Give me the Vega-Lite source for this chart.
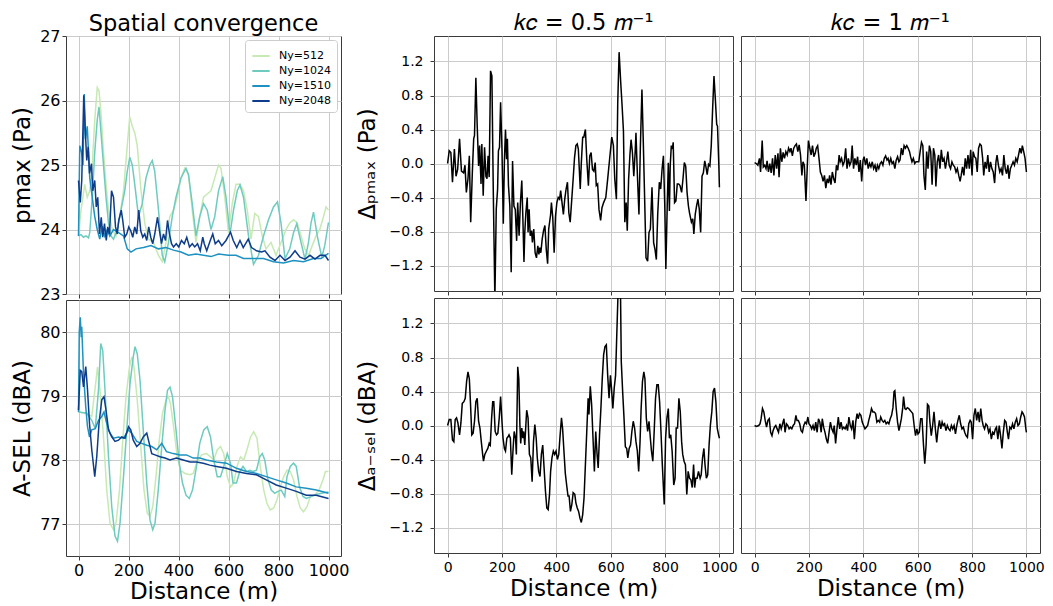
{
"$schema": "https://vega.github.io/schema/vega-lite/v6.json",
"background": "white",
"padding": {"left": 11, "top": 11, "right": 3, "bottom": 1},
"config": {
 "font": "DejaVu Sans",
 "view": {"stroke": "#3a3a3a", "strokeWidth": 1},
 "axis": {"domain": false, "grid": true, "gridColor": "#cbcbcb", "gridWidth": 1, "tickColor": "#3a3a3a", "tickSize": 4, "tickWidth": 1, "labelFontSize": 14, "labelColor": "#000", "labelPadding": 4, "labelFlush": false, "labelOverlap": false, "titleFontSize": 23, "titleFontWeight": "normal", "titleColor": "#000", "titlePadding": 6},
 "title": {"fontSize": 22.5, "fontWeight": "normal", "color": "#000", "offset": 2}
},
"datasets": {
 "pmax": [
  {"Ny":"Ny=512","d":0,"v":23.9},{"Ny":"Ny=512","d":10,"v":24.3},{"Ny":"Ny=512","d":25,"v":24.7},{"Ny":"Ny=512","d":35,"v":24.5},{"Ny":"Ny=512","d":45,"v":24.6},{"Ny":"Ny=512","d":55,"v":25.0},{"Ny":"Ny=512","d":65,"v":25.7},{"Ny":"Ny=512","d":75,"v":26.2},{"Ny":"Ny=512","d":82,"v":26.15},{"Ny":"Ny=512","d":90,"v":25.8},{"Ny":"Ny=512","d":100,"v":25.2},{"Ny":"Ny=512","d":110,"v":24.7},{"Ny":"Ny=512","d":120,"v":24.3},{"Ny":"Ny=512","d":135,"v":24.0},{"Ny":"Ny=512","d":150,"v":23.9},{"Ny":"Ny=512","d":165,"v":24.2},{"Ny":"Ny=512","d":180,"v":24.6},{"Ny":"Ny=512","d":195,"v":25.3},{"Ny":"Ny=512","d":205,"v":25.75},{"Ny":"Ny=512","d":215,"v":25.6},{"Ny":"Ny=512","d":225,"v":25.5},{"Ny":"Ny=512","d":235,"v":25.3},{"Ny":"Ny=512","d":250,"v":24.6},{"Ny":"Ny=512","d":265,"v":24.1},{"Ny":"Ny=512","d":280,"v":23.85},{"Ny":"Ny=512","d":300,"v":23.8},{"Ny":"Ny=512","d":320,"v":23.6},{"Ny":"Ny=512","d":335,"v":23.5},{"Ny":"Ny=512","d":350,"v":23.8},{"Ny":"Ny=512","d":365,"v":24.2},{"Ny":"Ny=512","d":380,"v":24.3},{"Ny":"Ny=512","d":395,"v":24.5},{"Ny":"Ny=512","d":410,"v":24.8},{"Ny":"Ny=512","d":425,"v":24.95},{"Ny":"Ny=512","d":440,"v":24.85},{"Ny":"Ny=512","d":455,"v":24.3},{"Ny":"Ny=512","d":470,"v":23.8},{"Ny":"Ny=512","d":485,"v":24.2},{"Ny":"Ny=512","d":500,"v":24.5},{"Ny":"Ny=512","d":515,"v":24.55},{"Ny":"Ny=512","d":530,"v":24.6},{"Ny":"Ny=512","d":545,"v":24.8},{"Ny":"Ny=512","d":560,"v":25.0},{"Ny":"Ny=512","d":570,"v":24.95},{"Ny":"Ny=512","d":585,"v":24.5},{"Ny":"Ny=512","d":600,"v":23.95},{"Ny":"Ny=512","d":615,"v":24.4},{"Ny":"Ny=512","d":630,"v":24.7},{"Ny":"Ny=512","d":645,"v":24.7},{"Ny":"Ny=512","d":660,"v":24.6},{"Ny":"Ny=512","d":675,"v":24.3},{"Ny":"Ny=512","d":690,"v":23.85},{"Ny":"Ny=512","d":705,"v":24.25},{"Ny":"Ny=512","d":720,"v":24.2},{"Ny":"Ny=512","d":735,"v":23.9},{"Ny":"Ny=512","d":750,"v":23.7},{"Ny":"Ny=512","d":770,"v":23.8},{"Ny":"Ny=512","d":790,"v":23.6},{"Ny":"Ny=512","d":810,"v":23.8},{"Ny":"Ny=512","d":830,"v":24.0},{"Ny":"Ny=512","d":845,"v":24.1},{"Ny":"Ny=512","d":860,"v":24.15},{"Ny":"Ny=512","d":875,"v":24.1},{"Ny":"Ny=512","d":890,"v":23.9},{"Ny":"Ny=512","d":905,"v":23.7},{"Ny":"Ny=512","d":920,"v":23.6},{"Ny":"Ny=512","d":935,"v":23.75},{"Ny":"Ny=512","d":950,"v":23.9},{"Ny":"Ny=512","d":965,"v":24.0},{"Ny":"Ny=512","d":980,"v":24.2},{"Ny":"Ny=512","d":990,"v":24.35},{"Ny":"Ny=512","d":1000,"v":24.3},
  {"Ny":"Ny=1024","d":0,"v":23.9},{"Ny":"Ny=1024","d":10,"v":23.92},{"Ny":"Ny=1024","d":20,"v":23.88},{"Ny":"Ny=1024","d":30,"v":23.9},{"Ny":"Ny=1024","d":40,"v":23.87},{"Ny":"Ny=1024","d":45,"v":23.95},{"Ny":"Ny=1024","d":55,"v":24.5},{"Ny":"Ny=1024","d":65,"v":25.2},{"Ny":"Ny=1024","d":75,"v":25.7},{"Ny":"Ny=1024","d":82,"v":25.9},{"Ny":"Ny=1024","d":90,"v":25.5},{"Ny":"Ny=1024","d":100,"v":25.0},{"Ny":"Ny=1024","d":110,"v":24.5},{"Ny":"Ny=1024","d":120,"v":24.1},{"Ny":"Ny=1024","d":130,"v":23.9},{"Ny":"Ny=1024","d":140,"v":23.85},{"Ny":"Ny=1024","d":155,"v":24.0},{"Ny":"Ny=1024","d":170,"v":24.3},{"Ny":"Ny=1024","d":185,"v":24.6},{"Ny":"Ny=1024","d":195,"v":24.9},{"Ny":"Ny=1024","d":205,"v":25.12},{"Ny":"Ny=1024","d":215,"v":25.0},{"Ny":"Ny=1024","d":225,"v":24.7},{"Ny":"Ny=1024","d":240,"v":24.2},{"Ny":"Ny=1024","d":255,"v":24.4},{"Ny":"Ny=1024","d":270,"v":24.8},{"Ny":"Ny=1024","d":285,"v":25.0},{"Ny":"Ny=1024","d":295,"v":25.07},{"Ny":"Ny=1024","d":305,"v":24.9},{"Ny":"Ny=1024","d":320,"v":24.3},{"Ny":"Ny=1024","d":335,"v":23.6},{"Ny":"Ny=1024","d":345,"v":23.5},{"Ny":"Ny=1024","d":360,"v":23.8},{"Ny":"Ny=1024","d":375,"v":24.2},{"Ny":"Ny=1024","d":390,"v":24.5},{"Ny":"Ny=1024","d":410,"v":24.8},{"Ny":"Ny=1024","d":430,"v":24.95},{"Ny":"Ny=1024","d":440,"v":24.85},{"Ny":"Ny=1024","d":455,"v":24.4},{"Ny":"Ny=1024","d":470,"v":23.9},{"Ny":"Ny=1024","d":485,"v":24.2},{"Ny":"Ny=1024","d":500,"v":24.4},{"Ny":"Ny=1024","d":515,"v":24.3},{"Ny":"Ny=1024","d":530,"v":24.0},{"Ny":"Ny=1024","d":545,"v":24.2},{"Ny":"Ny=1024","d":560,"v":24.6},{"Ny":"Ny=1024","d":577,"v":24.82},{"Ny":"Ny=1024","d":590,"v":24.5},{"Ny":"Ny=1024","d":606,"v":23.93},{"Ny":"Ny=1024","d":620,"v":24.3},{"Ny":"Ny=1024","d":635,"v":24.6},{"Ny":"Ny=1024","d":646,"v":24.69},{"Ny":"Ny=1024","d":660,"v":24.5},{"Ny":"Ny=1024","d":680,"v":23.9},{"Ny":"Ny=1024","d":700,"v":23.46},{"Ny":"Ny=1024","d":720,"v":23.6},{"Ny":"Ny=1024","d":740,"v":23.9},{"Ny":"Ny=1024","d":760,"v":24.15},{"Ny":"Ny=1024","d":780,"v":24.35},{"Ny":"Ny=1024","d":796,"v":24.43},{"Ny":"Ny=1024","d":810,"v":24.1},{"Ny":"Ny=1024","d":826,"v":23.55},{"Ny":"Ny=1024","d":845,"v":23.7},{"Ny":"Ny=1024","d":860,"v":23.95},{"Ny":"Ny=1024","d":873,"v":24.09},{"Ny":"Ny=1024","d":890,"v":23.8},{"Ny":"Ny=1024","d":906,"v":23.54},{"Ny":"Ny=1024","d":920,"v":23.8},{"Ny":"Ny=1024","d":930,"v":24.1},{"Ny":"Ny=1024","d":940,"v":24.27},{"Ny":"Ny=1024","d":955,"v":23.9},{"Ny":"Ny=1024","d":973,"v":23.57},{"Ny":"Ny=1024","d":985,"v":23.75},{"Ny":"Ny=1024","d":1000,"v":24.11},
  {"Ny":"Ny=1510","d":0,"v":23.9},{"Ny":"Ny=1510","d":5,"v":25.3},{"Ny":"Ny=1510","d":12,"v":25.2},{"Ny":"Ny=1510","d":18,"v":25.0},{"Ny":"Ny=1510","d":23,"v":26.1},{"Ny":"Ny=1510","d":28,"v":25.4},{"Ny":"Ny=1510","d":35,"v":25.6},{"Ny":"Ny=1510","d":45,"v":24.8},{"Ny":"Ny=1510","d":55,"v":24.5},{"Ny":"Ny=1510","d":65,"v":24.2},{"Ny":"Ny=1510","d":75,"v":24.0},{"Ny":"Ny=1510","d":85,"v":23.85},{"Ny":"Ny=1510","d":95,"v":24.05},{"Ny":"Ny=1510","d":105,"v":23.9},{"Ny":"Ny=1510","d":115,"v":24.0},{"Ny":"Ny=1510","d":125,"v":23.9},{"Ny":"Ny=1510","d":140,"v":24.0},{"Ny":"Ny=1510","d":160,"v":23.95},{"Ny":"Ny=1510","d":180,"v":23.9},{"Ny":"Ny=1510","d":195,"v":23.7},{"Ny":"Ny=1510","d":210,"v":23.65},{"Ny":"Ny=1510","d":230,"v":23.7},{"Ny":"Ny=1510","d":260,"v":23.72},{"Ny":"Ny=1510","d":290,"v":23.75},{"Ny":"Ny=1510","d":320,"v":23.7},{"Ny":"Ny=1510","d":350,"v":23.72},{"Ny":"Ny=1510","d":380,"v":23.68},{"Ny":"Ny=1510","d":410,"v":23.65},{"Ny":"Ny=1510","d":440,"v":23.6},{"Ny":"Ny=1510","d":470,"v":23.62},{"Ny":"Ny=1510","d":500,"v":23.6},{"Ny":"Ny=1510","d":530,"v":23.58},{"Ny":"Ny=1510","d":560,"v":23.62},{"Ny":"Ny=1510","d":600,"v":23.6},{"Ny":"Ny=1510","d":630,"v":23.6},{"Ny":"Ny=1510","d":660,"v":23.55},{"Ny":"Ny=1510","d":700,"v":23.55},{"Ny":"Ny=1510","d":740,"v":23.55},{"Ny":"Ny=1510","d":780,"v":23.5},{"Ny":"Ny=1510","d":820,"v":23.48},{"Ny":"Ny=1510","d":860,"v":23.52},{"Ny":"Ny=1510","d":900,"v":23.5},{"Ny":"Ny=1510","d":940,"v":23.55},{"Ny":"Ny=1510","d":970,"v":23.55},{"Ny":"Ny=1510","d":1000,"v":23.63},
  {"Ny":"Ny=2048","d":0,"v":24.76},{"Ny":"Ny=2048","d":7,"v":24.42},{"Ny":"Ny=2048","d":13,"v":24.76},{"Ny":"Ny=2048","d":21,"v":26.08},{"Ny":"Ny=2048","d":27,"v":25.54},{"Ny":"Ny=2048","d":33,"v":25.07},{"Ny":"Ny=2048","d":39,"v":25.28},{"Ny":"Ny=2048","d":44,"v":24.87},{"Ny":"Ny=2048","d":52,"v":25.02},{"Ny":"Ny=2048","d":57,"v":24.6},{"Ny":"Ny=2048","d":65,"v":24.76},{"Ny":"Ny=2048","d":71,"v":24.35},{"Ny":"Ny=2048","d":77,"v":24.5},{"Ny":"Ny=2048","d":84,"v":23.93},{"Ny":"Ny=2048","d":91,"v":24.19},{"Ny":"Ny=2048","d":97,"v":23.88},{"Ny":"Ny=2048","d":104,"v":24.09},{"Ny":"Ny=2048","d":111,"v":23.83},{"Ny":"Ny=2048","d":117,"v":24.04},{"Ny":"Ny=2048","d":124,"v":23.93},{"Ny":"Ny=2048","d":132,"v":24.6},{"Ny":"Ny=2048","d":140,"v":24.5},{"Ny":"Ny=2048","d":148,"v":24.04},{"Ny":"Ny=2048","d":155,"v":23.93},{"Ny":"Ny=2048","d":161,"v":24.14},{"Ny":"Ny=2048","d":171,"v":24.3},{"Ny":"Ny=2048","d":177,"v":24.14},{"Ny":"Ny=2048","d":185,"v":23.88},{"Ny":"Ny=2048","d":193,"v":23.93},{"Ny":"Ny=2048","d":201,"v":24.04},{"Ny":"Ny=2048","d":209,"v":23.98},{"Ny":"Ny=2048","d":217,"v":23.88},{"Ny":"Ny=2048","d":225,"v":24.04},{"Ny":"Ny=2048","d":233,"v":23.93},{"Ny":"Ny=2048","d":241,"v":24.3},{"Ny":"Ny=2048","d":249,"v":23.98},{"Ny":"Ny=2048","d":257,"v":23.88},{"Ny":"Ny=2048","d":265,"v":23.93},{"Ny":"Ny=2048","d":273,"v":23.83},{"Ny":"Ny=2048","d":281,"v":24.04},{"Ny":"Ny=2048","d":289,"v":23.88},{"Ny":"Ny=2048","d":297,"v":23.78},{"Ny":"Ny=2048","d":305,"v":23.93},{"Ny":"Ny=2048","d":316,"v":24.19},{"Ny":"Ny=2048","d":324,"v":23.98},{"Ny":"Ny=2048","d":332,"v":23.78},{"Ny":"Ny=2048","d":340,"v":23.93},{"Ny":"Ny=2048","d":348,"v":23.83},{"Ny":"Ny=2048","d":356,"v":24.14},{"Ny":"Ny=2048","d":364,"v":23.93},{"Ny":"Ny=2048","d":372,"v":23.78},{"Ny":"Ny=2048","d":380,"v":23.73},{"Ny":"Ny=2048","d":391,"v":23.78},{"Ny":"Ny=2048","d":401,"v":23.73},{"Ny":"Ny=2048","d":412,"v":23.83},{"Ny":"Ny=2048","d":423,"v":23.78},{"Ny":"Ny=2048","d":433,"v":23.88},{"Ny":"Ny=2048","d":444,"v":23.73},{"Ny":"Ny=2048","d":455,"v":23.78},{"Ny":"Ny=2048","d":465,"v":23.73},{"Ny":"Ny=2048","d":476,"v":23.78},{"Ny":"Ny=2048","d":487,"v":23.67},{"Ny":"Ny=2048","d":497,"v":23.88},{"Ny":"Ny=2048","d":503,"v":23.78},{"Ny":"Ny=2048","d":513,"v":23.67},{"Ny":"Ny=2048","d":527,"v":23.83},{"Ny":"Ny=2048","d":537,"v":23.93},{"Ny":"Ny=2048","d":547,"v":23.78},{"Ny":"Ny=2048","d":560,"v":23.83},{"Ny":"Ny=2048","d":573,"v":23.75},{"Ny":"Ny=2048","d":590,"v":23.83},{"Ny":"Ny=2048","d":608,"v":23.96},{"Ny":"Ny=2048","d":619,"v":23.83},{"Ny":"Ny=2048","d":633,"v":23.72},{"Ny":"Ny=2048","d":646,"v":23.83},{"Ny":"Ny=2048","d":659,"v":23.72},{"Ny":"Ny=2048","d":679,"v":23.85},{"Ny":"Ny=2048","d":692,"v":23.72},{"Ny":"Ny=2048","d":712,"v":23.67},{"Ny":"Ny=2048","d":732,"v":23.65},{"Ny":"Ny=2048","d":746,"v":23.67},{"Ny":"Ny=2048","d":766,"v":23.57},{"Ny":"Ny=2048","d":786,"v":23.52},{"Ny":"Ny=2048","d":806,"v":23.6},{"Ny":"Ny=2048","d":826,"v":23.52},{"Ny":"Ny=2048","d":846,"v":23.57},{"Ny":"Ny=2048","d":866,"v":23.67},{"Ny":"Ny=2048","d":886,"v":23.57},{"Ny":"Ny=2048","d":906,"v":23.54},{"Ny":"Ny=2048","d":926,"v":23.6},{"Ny":"Ny=2048","d":946,"v":23.54},{"Ny":"Ny=2048","d":966,"v":23.6},{"Ny":"Ny=2048","d":986,"v":23.6},{"Ny":"Ny=2048","d":1000,"v":23.52}
 ],
 "asel": [
  {"Ny":"Ny=512","d":0,"v":78.75},{"Ny":"Ny=512","d":33,"v":78.73},{"Ny":"Ny=512","d":53,"v":78.68},{"Ny":"Ny=512","d":67,"v":79.14},{"Ny":"Ny=512","d":76,"v":79.45},{"Ny":"Ny=512","d":86,"v":79.09},{"Ny":"Ny=512","d":100,"v":78.36},{"Ny":"Ny=512","d":113,"v":77.53},{"Ny":"Ny=512","d":126,"v":77.01},{"Ny":"Ny=512","d":140,"v":76.91},{"Ny":"Ny=512","d":150,"v":77.01},{"Ny":"Ny=512","d":164,"v":77.53},{"Ny":"Ny=512","d":177,"v":78.31},{"Ny":"Ny=512","d":190,"v":78.99},{"Ny":"Ny=512","d":204,"v":79.45},{"Ny":"Ny=512","d":213,"v":79.61},{"Ny":"Ny=512","d":222,"v":79.45},{"Ny":"Ny=512","d":235,"v":78.94},{"Ny":"Ny=512","d":249,"v":78.21},{"Ny":"Ny=512","d":262,"v":77.53},{"Ny":"Ny=512","d":275,"v":77.17},{"Ny":"Ny=512","d":286,"v":77.12},{"Ny":"Ny=512","d":297,"v":77.27},{"Ny":"Ny=512","d":310,"v":77.74},{"Ny":"Ny=512","d":323,"v":78.31},{"Ny":"Ny=512","d":336,"v":78.73},{"Ny":"Ny=512","d":350,"v":78.94},{"Ny":"Ny=512","d":359,"v":78.99},{"Ny":"Ny=512","d":368,"v":78.88},{"Ny":"Ny=512","d":382,"v":78.47},{"Ny":"Ny=512","d":395,"v":78.05},{"Ny":"Ny=512","d":408,"v":77.84},{"Ny":"Ny=512","d":426,"v":77.79},{"Ny":"Ny=512","d":446,"v":77.77},{"Ny":"Ny=512","d":459,"v":77.79},{"Ny":"Ny=512","d":472,"v":77.95},{"Ny":"Ny=512","d":492,"v":78.08},{"Ny":"Ny=512","d":512,"v":78.1},{"Ny":"Ny=512","d":528,"v":78.05},{"Ny":"Ny=512","d":541,"v":78.0},{"Ny":"Ny=512","d":555,"v":78.16},{"Ny":"Ny=512","d":568,"v":78.21},{"Ny":"Ny=512","d":581,"v":78.1},{"Ny":"Ny=512","d":595,"v":77.74},{"Ny":"Ny=512","d":608,"v":77.58},{"Ny":"Ny=512","d":621,"v":77.64},{"Ny":"Ny=512","d":634,"v":77.9},{"Ny":"Ny=512","d":648,"v":78.05},{"Ny":"Ny=512","d":661,"v":78.0},{"Ny":"Ny=512","d":674,"v":78.16},{"Ny":"Ny=512","d":688,"v":78.36},{"Ny":"Ny=512","d":701,"v":78.44},{"Ny":"Ny=512","d":714,"v":78.34},{"Ny":"Ny=512","d":727,"v":77.9},{"Ny":"Ny=512","d":741,"v":77.53},{"Ny":"Ny=512","d":754,"v":77.32},{"Ny":"Ny=512","d":767,"v":77.22},{"Ny":"Ny=512","d":781,"v":77.25},{"Ny":"Ny=512","d":794,"v":77.38},{"Ny":"Ny=512","d":807,"v":77.58},{"Ny":"Ny=512","d":821,"v":77.74},{"Ny":"Ny=512","d":834,"v":77.84},{"Ny":"Ny=512","d":847,"v":77.82},{"Ny":"Ny=512","d":860,"v":77.69},{"Ny":"Ny=512","d":874,"v":77.43},{"Ny":"Ny=512","d":887,"v":77.25},{"Ny":"Ny=512","d":900,"v":77.19},{"Ny":"Ny=512","d":914,"v":77.27},{"Ny":"Ny=512","d":927,"v":77.43},{"Ny":"Ny=512","d":944,"v":77.45},{"Ny":"Ny=512","d":962,"v":77.53},{"Ny":"Ny=512","d":978,"v":77.69},{"Ny":"Ny=512","d":988,"v":77.82},{"Ny":"Ny=512","d":1000,"v":77.82},
  {"Ny":"Ny=1024","d":0,"v":78.75},{"Ny":"Ny=1024","d":33,"v":78.73},{"Ny":"Ny=1024","d":53,"v":78.62},{"Ny":"Ny=1024","d":67,"v":78.49},{"Ny":"Ny=1024","d":80,"v":79.1},{"Ny":"Ny=1024","d":89,"v":79.82},{"Ny":"Ny=1024","d":97,"v":79.71},{"Ny":"Ny=1024","d":106,"v":79.09},{"Ny":"Ny=1024","d":120,"v":78.05},{"Ny":"Ny=1024","d":133,"v":77.27},{"Ny":"Ny=1024","d":146,"v":76.81},{"Ny":"Ny=1024","d":156,"v":76.73},{"Ny":"Ny=1024","d":166,"v":77.01},{"Ny":"Ny=1024","d":180,"v":77.74},{"Ny":"Ny=1024","d":193,"v":78.47},{"Ny":"Ny=1024","d":206,"v":79.19},{"Ny":"Ny=1024","d":219,"v":79.61},{"Ny":"Ny=1024","d":226,"v":79.77},{"Ny":"Ny=1024","d":235,"v":79.66},{"Ny":"Ny=1024","d":246,"v":79.25},{"Ny":"Ny=1024","d":259,"v":78.47},{"Ny":"Ny=1024","d":273,"v":77.64},{"Ny":"Ny=1024","d":286,"v":77.06},{"Ny":"Ny=1024","d":297,"v":76.91},{"Ny":"Ny=1024","d":306,"v":77.01},{"Ny":"Ny=1024","d":319,"v":77.53},{"Ny":"Ny=1024","d":333,"v":78.21},{"Ny":"Ny=1024","d":346,"v":78.78},{"Ny":"Ny=1024","d":356,"v":79.09},{"Ny":"Ny=1024","d":366,"v":79.14},{"Ny":"Ny=1024","d":376,"v":78.99},{"Ny":"Ny=1024","d":390,"v":78.47},{"Ny":"Ny=1024","d":403,"v":77.95},{"Ny":"Ny=1024","d":416,"v":77.64},{"Ny":"Ny=1024","d":430,"v":77.45},{"Ny":"Ny=1024","d":443,"v":77.4},{"Ny":"Ny=1024","d":456,"v":77.53},{"Ny":"Ny=1024","d":472,"v":77.9},{"Ny":"Ny=1024","d":485,"v":78.26},{"Ny":"Ny=1024","d":501,"v":78.47},{"Ny":"Ny=1024","d":515,"v":78.52},{"Ny":"Ny=1024","d":528,"v":78.36},{"Ny":"Ny=1024","d":541,"v":78.0},{"Ny":"Ny=1024","d":555,"v":77.74},{"Ny":"Ny=1024","d":568,"v":77.74},{"Ny":"Ny=1024","d":581,"v":77.9},{"Ny":"Ny=1024","d":595,"v":78.1},{"Ny":"Ny=1024","d":608,"v":77.95},{"Ny":"Ny=1024","d":618,"v":77.64},{"Ny":"Ny=1024","d":632,"v":77.64},{"Ny":"Ny=1024","d":645,"v":77.82},{"Ny":"Ny=1024","d":658,"v":77.9},{"Ny":"Ny=1024","d":672,"v":77.82},{"Ny":"Ny=1024","d":685,"v":77.84},{"Ny":"Ny=1024","d":698,"v":77.82},{"Ny":"Ny=1024","d":712,"v":77.84},{"Ny":"Ny=1024","d":725,"v":78.05},{"Ny":"Ny=1024","d":735,"v":78.1},{"Ny":"Ny=1024","d":745,"v":78.0},{"Ny":"Ny=1024","d":758,"v":77.69},{"Ny":"Ny=1024","d":771,"v":77.53},{"Ny":"Ny=1024","d":785,"v":77.48},{"Ny":"Ny=1024","d":798,"v":77.51},{"Ny":"Ny=1024","d":811,"v":77.53},{"Ny":"Ny=1024","d":825,"v":77.43},{"Ny":"Ny=1024","d":834,"v":77.74},{"Ny":"Ny=1024","d":847,"v":77.9},{"Ny":"Ny=1024","d":860,"v":77.95},{"Ny":"Ny=1024","d":871,"v":77.9},{"Ny":"Ny=1024","d":884,"v":77.58},{"Ny":"Ny=1024","d":898,"v":77.43},{"Ny":"Ny=1024","d":911,"v":77.4},{"Ny":"Ny=1024","d":931,"v":77.43},{"Ny":"Ny=1024","d":951,"v":77.46},{"Ny":"Ny=1024","d":971,"v":77.48},{"Ny":"Ny=1024","d":1000,"v":77.5},
  {"Ny":"Ny=1510","d":0,"v":78.75},{"Ny":"Ny=1510","d":3,"v":80.0},{"Ny":"Ny=1510","d":7,"v":80.23},{"Ny":"Ny=1510","d":11,"v":79.92},{"Ny":"Ny=1510","d":13,"v":80.08},{"Ny":"Ny=1510","d":20,"v":79.35},{"Ny":"Ny=1510","d":29,"v":78.83},{"Ny":"Ny=1510","d":36,"v":78.52},{"Ny":"Ny=1510","d":44,"v":78.36},{"Ny":"Ny=1510","d":53,"v":78.47},{"Ny":"Ny=1510","d":67,"v":78.49},{"Ny":"Ny=1510","d":80,"v":78.62},{"Ny":"Ny=1510","d":93,"v":78.68},{"Ny":"Ny=1510","d":102,"v":78.75},{"Ny":"Ny=1510","d":113,"v":78.57},{"Ny":"Ny=1510","d":126,"v":78.42},{"Ny":"Ny=1510","d":140,"v":78.34},{"Ny":"Ny=1510","d":160,"v":78.36},{"Ny":"Ny=1510","d":180,"v":78.34},{"Ny":"Ny=1510","d":200,"v":78.47},{"Ny":"Ny=1510","d":213,"v":78.42},{"Ny":"Ny=1510","d":233,"v":78.29},{"Ny":"Ny=1510","d":253,"v":78.26},{"Ny":"Ny=1510","d":273,"v":78.23},{"Ny":"Ny=1510","d":293,"v":78.21},{"Ny":"Ny=1510","d":313,"v":78.16},{"Ny":"Ny=1510","d":333,"v":78.26},{"Ny":"Ny=1510","d":352,"v":78.13},{"Ny":"Ny=1510","d":379,"v":78.1},{"Ny":"Ny=1510","d":406,"v":78.08},{"Ny":"Ny=1510","d":432,"v":78.08},{"Ny":"Ny=1510","d":459,"v":78.03},{"Ny":"Ny=1510","d":485,"v":78.03},{"Ny":"Ny=1510","d":512,"v":78.0},{"Ny":"Ny=1510","d":552,"v":77.97},{"Ny":"Ny=1510","d":592,"v":77.95},{"Ny":"Ny=1510","d":632,"v":77.87},{"Ny":"Ny=1510","d":672,"v":77.82},{"Ny":"Ny=1510","d":712,"v":77.79},{"Ny":"Ny=1510","d":751,"v":77.74},{"Ny":"Ny=1510","d":791,"v":77.69},{"Ny":"Ny=1510","d":831,"v":77.64},{"Ny":"Ny=1510","d":871,"v":77.58},{"Ny":"Ny=1510","d":911,"v":77.56},{"Ny":"Ny=1510","d":951,"v":77.53},{"Ny":"Ny=1510","d":1000,"v":77.48},
  {"Ny":"Ny=2048","d":0,"v":78.78},{"Ny":"Ny=2048","d":7,"v":79.4},{"Ny":"Ny=2048","d":13,"v":79.38},{"Ny":"Ny=2048","d":20,"v":79.14},{"Ny":"Ny=2048","d":29,"v":79.46},{"Ny":"Ny=2048","d":36,"v":79.1},{"Ny":"Ny=2048","d":44,"v":78.57},{"Ny":"Ny=2048","d":53,"v":78.16},{"Ny":"Ny=2048","d":65,"v":77.74},{"Ny":"Ny=2048","d":73,"v":78.05},{"Ny":"Ny=2048","d":82,"v":78.57},{"Ny":"Ny=2048","d":93,"v":78.94},{"Ny":"Ny=2048","d":102,"v":78.99},{"Ny":"Ny=2048","d":110,"v":78.78},{"Ny":"Ny=2048","d":120,"v":78.47},{"Ny":"Ny=2048","d":133,"v":78.36},{"Ny":"Ny=2048","d":146,"v":78.29},{"Ny":"Ny=2048","d":160,"v":78.31},{"Ny":"Ny=2048","d":173,"v":78.36},{"Ny":"Ny=2048","d":186,"v":78.34},{"Ny":"Ny=2048","d":200,"v":78.52},{"Ny":"Ny=2048","d":209,"v":78.47},{"Ny":"Ny=2048","d":219,"v":78.31},{"Ny":"Ny=2048","d":233,"v":78.21},{"Ny":"Ny=2048","d":246,"v":78.26},{"Ny":"Ny=2048","d":259,"v":78.36},{"Ny":"Ny=2048","d":273,"v":78.42},{"Ny":"Ny=2048","d":283,"v":78.26},{"Ny":"Ny=2048","d":293,"v":78.1},{"Ny":"Ny=2048","d":306,"v":78.08},{"Ny":"Ny=2048","d":326,"v":78.05},{"Ny":"Ny=2048","d":346,"v":78.03},{"Ny":"Ny=2048","d":366,"v":78.0},{"Ny":"Ny=2048","d":392,"v":78.03},{"Ny":"Ny=2048","d":419,"v":78.0},{"Ny":"Ny=2048","d":446,"v":77.97},{"Ny":"Ny=2048","d":472,"v":77.97},{"Ny":"Ny=2048","d":499,"v":77.95},{"Ny":"Ny=2048","d":525,"v":77.92},{"Ny":"Ny=2048","d":552,"v":77.9},{"Ny":"Ny=2048","d":592,"v":77.87},{"Ny":"Ny=2048","d":632,"v":77.82},{"Ny":"Ny=2048","d":672,"v":77.79},{"Ny":"Ny=2048","d":712,"v":77.77},{"Ny":"Ny=2048","d":751,"v":77.69},{"Ny":"Ny=2048","d":791,"v":77.61},{"Ny":"Ny=2048","d":831,"v":77.56},{"Ny":"Ny=2048","d":871,"v":77.51},{"Ny":"Ny=2048","d":911,"v":77.45},{"Ny":"Ny=2048","d":951,"v":77.45},{"Ny":"Ny=2048","d":1000,"v":77.4}
 ],
 "dp05": [
  {"d":0,"v":0},{"d":6,"v":0.15},{"d":12,"v":0.13},{"d":18,"v":-0.22},{"d":25,"v":0.17},{"d":31,"v":-0.15},{"d":37,"v":-0.07},{"d":44,"v":0.29},{"d":51,"v":-0.09},{"d":59,"v":-0.11},{"d":64,"v":-0.02},{"d":69,"v":-0.34},{"d":75,"v":-0.18},{"d":80,"v":0.09},{"d":85,"v":-0.69},{"d":91,"v":-0.11},{"d":96,"v":0.29},{"d":99,"v":0.33},{"d":104,"v":1.01},{"d":109,"v":0.44},{"d":114,"v":-0.03},{"d":118,"v":0.21},{"d":123,"v":-0.24},{"d":126,"v":0.23},{"d":131,"v":-0.38},{"d":136,"v":0.19},{"d":141,"v":-0.15},{"d":145,"v":-0.18},{"d":149,"v":0.09},{"d":153,"v":-0.16},{"d":158,"v":1.09},{"d":163,"v":1.03},{"d":168,"v":-0.3},{"d":174,"v":-1.6},{"d":179,"v":-0.54},{"d":184,"v":-0.3},{"d":187,"v":0.15},{"d":191,"v":0.19},{"d":195,"v":0.72},{"d":200,"v":0.17},{"d":205,"v":-0.71},{"d":209,"v":0.03},{"d":213,"v":0.4},{"d":217,"v":0.05},{"d":220,"v":0.29},{"d":224,"v":-0.26},{"d":229,"v":-0.5},{"d":234,"v":-1.28},{"d":239,"v":0.03},{"d":244,"v":-0.5},{"d":249,"v":-0.54},{"d":254,"v":-0.91},{"d":258,"v":-0.46},{"d":263,"v":-0.85},{"d":268,"v":-0.46},{"d":273,"v":-0.2},{"d":277,"v":-0.65},{"d":281,"v":-1.16},{"d":284,"v":-0.81},{"d":288,"v":-0.58},{"d":293,"v":-0.4},{"d":296,"v":-0.81},{"d":300,"v":-0.54},{"d":304,"v":-0.85},{"d":309,"v":-0.79},{"d":312,"v":-0.93},{"d":317,"v":-0.77},{"d":322,"v":-1.05},{"d":327,"v":-1.11},{"d":332,"v":-0.97},{"d":336,"v":-1.07},{"d":339,"v":-0.99},{"d":343,"v":-1.05},{"d":348,"v":-0.89},{"d":353,"v":-0.79},{"d":358,"v":-0.73},{"d":363,"v":-1.01},{"d":368,"v":-1.18},{"d":372,"v":-0.77},{"d":379,"v":-0.6},{"d":382,"v":-0.46},{"d":387,"v":-0.64},{"d":392,"v":-1.05},{"d":397,"v":-0.62},{"d":402,"v":-0.46},{"d":407,"v":-0.4},{"d":412,"v":-0.42},{"d":416,"v":-0.32},{"d":421,"v":-0.46},{"d":426,"v":-0.6},{"d":431,"v":-0.42},{"d":436,"v":-0.3},{"d":441,"v":-0.22},{"d":446,"v":-0.58},{"d":451,"v":-0.69},{"d":456,"v":-0.46},{"d":462,"v":-0.18},{"d":467,"v":0.07},{"d":472,"v":0.21},{"d":477,"v":0.23},{"d":481,"v":0.17},{"d":488,"v":-0.3},{"d":492,"v":0.01},{"d":497,"v":0.31},{"d":501,"v":0.31},{"d":507,"v":0.4},{"d":512,"v":0.05},{"d":518,"v":-0.26},{"d":523,"v":0.09},{"d":528,"v":0.13},{"d":533,"v":-0.07},{"d":538,"v":-0.09},{"d":543,"v":0.01},{"d":547,"v":-0.26},{"d":552,"v":-0.24},{"d":557,"v":-0.54},{"d":563,"v":-0.67},{"d":568,"v":-0.52},{"d":574,"v":-0.46},{"d":582,"v":-0.4},{"d":589,"v":-0.18},{"d":596,"v":0.05},{"d":604,"v":0.31},{"d":610,"v":0.21},{"d":615,"v":-0.18},{"d":621,"v":-0.42},{"d":626,"v":0.72},{"d":631,"v":1.31},{"d":637,"v":0.95},{"d":642,"v":0.68},{"d":647,"v":0.38},{"d":652,"v":-0.69},{"d":657,"v":-0.46},{"d":661,"v":-0.79},{"d":666,"v":-0.18},{"d":671,"v":0.11},{"d":675,"v":0.28},{"d":680,"v":0.13},{"d":685,"v":-0.15},{"d":690,"v":0.13},{"d":693,"v":0.36},{"d":698,"v":-0.11},{"d":704,"v":-0.6},{"d":709,"v":0.17},{"d":715,"v":0.87},{"d":720,"v":0.25},{"d":725,"v":-0.42},{"d":730,"v":-1.11},{"d":736,"v":-1.15},{"d":741,"v":-0.81},{"d":746,"v":-0.77},{"d":752,"v":-0.28},{"d":758,"v":-0.93},{"d":763,"v":-1.01},{"d":768,"v":-1.13},{"d":773,"v":-0.6},{"d":779,"v":-0.22},{"d":784,"v":-0.3},{"d":789,"v":-0.07},{"d":794,"v":0.09},{"d":799,"v":-0.5},{"d":803,"v":-1.24},{"d":808,"v":-0.5},{"d":812,"v":0.01},{"d":816,"v":-0.56},{"d":819,"v":-0.03},{"d":823,"v":0.21},{"d":827,"v":0.17},{"d":830,"v":0.25},{"d":835,"v":-0.46},{"d":840,"v":-0.44},{"d":845,"v":-0.24},{"d":850,"v":-0.24},{"d":855,"v":-0.26},{"d":861,"v":-0.34},{"d":866,"v":-0.18},{"d":871,"v":0.01},{"d":876,"v":-0.03},{"d":881,"v":-0.34},{"d":886,"v":-0.5},{"d":890,"v":-0.58},{"d":897,"v":-0.69},{"d":902,"v":-0.65},{"d":906,"v":-0.83},{"d":911,"v":-0.6},{"d":916,"v":-0.5},{"d":921,"v":-0.42},{"d":926,"v":-0.54},{"d":931,"v":-0.81},{"d":936,"v":-0.15},{"d":941,"v":-0.11},{"d":946,"v":0.03},{"d":950,"v":-0.03},{"d":955,"v":-0.13},{"d":960,"v":-0.01},{"d":965,"v":-0.03},{"d":970,"v":0.21},{"d":975,"v":0.64},{"d":980,"v":1.03},{"d":985,"v":0.76},{"d":990,"v":0.46},{"d":993,"v":0.44},{"d":998,"v":-0.03},{"d":1000,"v":-0.28}
 ],
 "dp1": [
  {"d":0,"v":0.01},{"d":6,"v":0},{"d":12,"v":-0.02},{"d":18,"v":0.06},{"d":22,"v":-0.1},{"d":28,"v":0.27},{"d":32,"v":-0.04},{"d":37,"v":-0.02},{"d":42,"v":-0.06},{"d":46,"v":0.03},{"d":51,"v":-0.1},{"d":56,"v":0},{"d":61,"v":-0.11},{"d":66,"v":0.06},{"d":71,"v":-0.14},{"d":76,"v":0.1},{"d":81,"v":-0.06},{"d":86,"v":0.12},{"d":90,"v":-0.16},{"d":95,"v":0.18},{"d":100,"v":0.02},{"d":105,"v":0.13},{"d":110,"v":0.06},{"d":115,"v":0.14},{"d":120,"v":0.1},{"d":125,"v":0.18},{"d":130,"v":0.14},{"d":134,"v":0.18},{"d":139,"v":0.09},{"d":144,"v":0.18},{"d":149,"v":0.21},{"d":154,"v":0.23},{"d":159,"v":0.14},{"d":164,"v":0.22},{"d":169,"v":0.1},{"d":174,"v":-0.14},{"d":178,"v":0.02},{"d":183,"v":-0.02},{"d":189,"v":-0.44},{"d":194,"v":-0.02},{"d":198,"v":0.27},{"d":203,"v":0.18},{"d":208,"v":0.1},{"d":213,"v":0.21},{"d":218,"v":0.08},{"d":223,"v":0.12},{"d":227,"v":0.18},{"d":232,"v":0.21},{"d":237,"v":0.06},{"d":242,"v":-0.1},{"d":247,"v":-0.14},{"d":252,"v":-0.21},{"d":257,"v":-0.14},{"d":262,"v":-0.29},{"d":267,"v":-0.18},{"d":272,"v":-0.23},{"d":276,"v":-0.14},{"d":281,"v":-0.25},{"d":286,"v":-0.1},{"d":291,"v":-0.18},{"d":296,"v":-0.23},{"d":301,"v":-0.02},{"d":306,"v":-0.08},{"d":311,"v":0.1},{"d":315,"v":0.02},{"d":320,"v":0.06},{"d":325,"v":-0.02},{"d":330,"v":0.02},{"d":335,"v":0.18},{"d":340,"v":-0.06},{"d":345,"v":0.06},{"d":350,"v":-0.02},{"d":355,"v":0.02},{"d":359,"v":0.21},{"d":364,"v":-0.06},{"d":369,"v":0.06},{"d":374,"v":-0.02},{"d":379,"v":0.08},{"d":384,"v":-0.1},{"d":389,"v":0.04},{"d":394,"v":-0.21},{"d":399,"v":0.04},{"d":403,"v":0.08},{"d":408,"v":-0.02},{"d":413,"v":0.06},{"d":418,"v":-0.06},{"d":423,"v":0},{"d":428,"v":-0.04},{"d":433,"v":0.02},{"d":438,"v":-0.06},{"d":443,"v":-0.02},{"d":448,"v":-0.1},{"d":452,"v":-0.02},{"d":457,"v":-0.06},{"d":462,"v":0},{"d":467,"v":0.02},{"d":472,"v":-0.02},{"d":477,"v":0.06},{"d":482,"v":0.09},{"d":487,"v":0.04},{"d":491,"v":0.06},{"d":496,"v":0},{"d":501,"v":0.06},{"d":506,"v":0},{"d":511,"v":0.02},{"d":516,"v":-0.06},{"d":521,"v":0.04},{"d":526,"v":0.08},{"d":531,"v":0.02},{"d":535,"v":0.04},{"d":540,"v":0.18},{"d":545,"v":0.1},{"d":550,"v":0.21},{"d":555,"v":0.18},{"d":560,"v":0.21},{"d":565,"v":0.18},{"d":570,"v":0.14},{"d":574,"v":0.08},{"d":579,"v":0.02},{"d":584,"v":0.06},{"d":589,"v":0},{"d":594,"v":0.02},{"d":599,"v":0.02},{"d":604,"v":0.02},{"d":609,"v":0.14},{"d":614,"v":0.25},{"d":619,"v":0.21},{"d":623,"v":-0.14},{"d":628,"v":-0.31},{"d":633,"v":0.14},{"d":638,"v":-0.06},{"d":643,"v":0.21},{"d":648,"v":0.14},{"d":653,"v":-0.25},{"d":658,"v":0.18},{"d":663,"v":0.1},{"d":667,"v":-0.27},{"d":672,"v":0.02},{"d":677,"v":0.1},{"d":682,"v":-0.06},{"d":687,"v":0.16},{"d":692,"v":0.02},{"d":697,"v":0.06},{"d":702,"v":-0.06},{"d":706,"v":0.02},{"d":711,"v":0.14},{"d":716,"v":-0.02},{"d":721,"v":-0.06},{"d":726,"v":0.02},{"d":731,"v":-0.02},{"d":736,"v":-0.04},{"d":741,"v":-0.1},{"d":746,"v":-0.06},{"d":751,"v":-0.14},{"d":756,"v":-0.21},{"d":760,"v":-0.14},{"d":765,"v":-0.04},{"d":770,"v":-0.14},{"d":775,"v":0.06},{"d":780,"v":-0.06},{"d":785,"v":0.1},{"d":790,"v":-0.06},{"d":795,"v":0.16},{"d":800,"v":-0.14},{"d":804,"v":0.14},{"d":809,"v":0.08},{"d":814,"v":0.06},{"d":819,"v":-0.1},{"d":824,"v":0.18},{"d":829,"v":0.23},{"d":834,"v":0.21},{"d":839,"v":0.06},{"d":843,"v":-0.14},{"d":848,"v":0.02},{"d":853,"v":-0.06},{"d":858,"v":0.1},{"d":863,"v":-0.1},{"d":868,"v":0.02},{"d":873,"v":-0.06},{"d":878,"v":-0.1},{"d":883,"v":-0.23},{"d":888,"v":0.02},{"d":892,"v":0.1},{"d":897,"v":-0.02},{"d":902,"v":-0.1},{"d":907,"v":-0.06},{"d":912,"v":-0.14},{"d":917,"v":0.1},{"d":922,"v":-0.06},{"d":927,"v":-0.12},{"d":932,"v":-0.02},{"d":936,"v":-0.18},{"d":941,"v":-0.06},{"d":946,"v":-0.02},{"d":951,"v":0.02},{"d":956,"v":-0.02},{"d":961,"v":0.06},{"d":966,"v":0.02},{"d":971,"v":0.1},{"d":976,"v":0.18},{"d":981,"v":0.12},{"d":985,"v":0.21},{"d":990,"v":0.14},{"d":995,"v":0.06},{"d":1000,"v":-0.1}
 ],
 "da05": [
  {"d":0,"v":0},{"d":6,"v":0.07},{"d":12,"v":0.07},{"d":18,"v":-0.17},{"d":23,"v":-0.19},{"d":28,"v":0.07},{"d":33,"v":0.09},{"d":38,"v":0.03},{"d":44,"v":-0.11},{"d":49,"v":0.03},{"d":54,"v":0.26},{"d":60,"v":0.28},{"d":65,"v":0.32},{"d":70,"v":0.52},{"d":75,"v":0.63},{"d":80,"v":0.55},{"d":84,"v":0.28},{"d":89,"v":-0.11},{"d":94,"v":-0.09},{"d":99,"v":0.05},{"d":104,"v":0.28},{"d":109,"v":0.32},{"d":114,"v":0.05},{"d":119,"v":-0.03},{"d":124,"v":-0.19},{"d":129,"v":-0.34},{"d":132,"v":-0.42},{"d":137,"v":-0.34},{"d":143,"v":-0.3},{"d":148,"v":-0.27},{"d":153,"v":-0.21},{"d":157,"v":-0.23},{"d":162,"v":0.09},{"d":166,"v":0.28},{"d":170,"v":0.28},{"d":175,"v":-0.07},{"d":180,"v":-0.11},{"d":185,"v":-0.09},{"d":190,"v":0.09},{"d":195,"v":0.34},{"d":200,"v":0.05},{"d":204,"v":-0.15},{"d":209,"v":-0.27},{"d":213,"v":-0.3},{"d":218,"v":-0.15},{"d":223,"v":-0.13},{"d":226,"v":-0.11},{"d":231,"v":-0.15},{"d":236,"v":-0.58},{"d":241,"v":-0.27},{"d":245,"v":-0.07},{"d":250,"v":-0.15},{"d":253,"v":-0.34},{"d":258,"v":0.69},{"d":262,"v":0.55},{"d":266,"v":0.01},{"d":269,"v":-0.21},{"d":273,"v":-0.03},{"d":277,"v":-0.15},{"d":280,"v":-0.07},{"d":284,"v":-0.23},{"d":288,"v":0.01},{"d":291,"v":0.18},{"d":296,"v":0.09},{"d":301,"v":-0.34},{"d":306,"v":-0.38},{"d":311,"v":-0.66},{"d":316,"v":-0.19},{"d":321,"v":0.01},{"d":326,"v":-0.15},{"d":330,"v":-0.38},{"d":335,"v":-0.54},{"d":340,"v":-0.6},{"d":345,"v":-0.34},{"d":350,"v":-0.23},{"d":355,"v":-0.5},{"d":360,"v":-0.77},{"d":365,"v":-0.97},{"d":370,"v":-0.99},{"d":375,"v":-0.81},{"d":379,"v":-0.54},{"d":384,"v":-0.38},{"d":389,"v":-0.3},{"d":394,"v":-0.34},{"d":399,"v":-0.3},{"d":404,"v":-0.4},{"d":409,"v":-0.34},{"d":414,"v":-0.11},{"d":419,"v":0.09},{"d":423,"v":-0.03},{"d":428,"v":-0.3},{"d":433,"v":-0.56},{"d":438,"v":-0.7},{"d":443,"v":-0.83},{"d":447,"v":-0.83},{"d":452,"v":-1.01},{"d":457,"v":-0.93},{"d":462,"v":-0.79},{"d":468,"v":-0.81},{"d":472,"v":-0.91},{"d":477,"v":-0.97},{"d":482,"v":-1.01},{"d":487,"v":-1.09},{"d":492,"v":-1.14},{"d":497,"v":-1.05},{"d":502,"v":-0.85},{"d":507,"v":-0.46},{"d":512,"v":-0.07},{"d":517,"v":0.32},{"d":520,"v":0.13},{"d":525,"v":0.46},{"d":530,"v":0.24},{"d":535,"v":-0.15},{"d":540,"v":-0.54},{"d":545,"v":-0.07},{"d":550,"v":-0.34},{"d":554,"v":-0.5},{"d":559,"v":-0.11},{"d":564,"v":0.2},{"d":569,"v":0.55},{"d":574,"v":0.83},{"d":579,"v":0.93},{"d":584,"v":0.95},{"d":589,"v":0.59},{"d":594,"v":0.32},{"d":599,"v":0.59},{"d":603,"v":0.44},{"d":608,"v":0.2},{"d":613,"v":0.44},{"d":618,"v":0.59},{"d":622,"v":1.02},{"d":627,"v":1.55},{"d":632,"v":1.7},{"d":636,"v":1.6},{"d":639,"v":0.75},{"d":644,"v":0.4},{"d":649,"v":0.09},{"d":654,"v":-0.25},{"d":659,"v":-0.27},{"d":663,"v":-0.38},{"d":668,"v":-0.27},{"d":673,"v":-0.23},{"d":678,"v":-0.07},{"d":683,"v":0.05},{"d":688,"v":-0.03},{"d":693,"v":-0.19},{"d":698,"v":-0.3},{"d":703,"v":-0.54},{"d":708,"v":-0.19},{"d":712,"v":0.2},{"d":717,"v":0.52},{"d":722,"v":0.63},{"d":726,"v":0.55},{"d":731,"v":0.09},{"d":736,"v":-0.07},{"d":741,"v":0.05},{"d":746,"v":-0.15},{"d":750,"v":-0.3},{"d":755,"v":-0.42},{"d":760,"v":-0.07},{"d":765,"v":0.32},{"d":770,"v":0.48},{"d":775,"v":0.48},{"d":780,"v":0.28},{"d":785,"v":-0.07},{"d":790,"v":-0.46},{"d":797,"v":-0.93},{"d":802,"v":-0.15},{"d":807,"v":0.09},{"d":812,"v":0.2},{"d":816,"v":-0.15},{"d":821,"v":-0.11},{"d":826,"v":-0.3},{"d":832,"v":-0.7},{"d":837,"v":-0.62},{"d":841,"v":-0.03},{"d":846,"v":-0.03},{"d":851,"v":0.32},{"d":856,"v":0.16},{"d":861,"v":-0.19},{"d":865,"v":-0.34},{"d":870,"v":-0.42},{"d":875,"v":-0.46},{"d":880,"v":-0.81},{"d":885,"v":-0.54},{"d":890,"v":-0.62},{"d":895,"v":-0.64},{"d":900,"v":-0.73},{"d":905,"v":-0.46},{"d":909,"v":-0.73},{"d":913,"v":-0.62},{"d":918,"v":-0.62},{"d":923,"v":-0.54},{"d":929,"v":-0.62},{"d":933,"v":-0.58},{"d":938,"v":-0.38},{"d":943,"v":-0.27},{"d":947,"v":-0.46},{"d":952,"v":-0.62},{"d":957,"v":-0.58},{"d":962,"v":-0.23},{"d":967,"v":0.01},{"d":972,"v":0.16},{"d":977,"v":0.4},{"d":982,"v":0.44},{"d":987,"v":0.28},{"d":992,"v":-0.03},{"d":997,"v":-0.11},{"d":1000,"v":-0.15}
 ],
 "da1": [
  {"d":0,"v":0},{"d":7,"v":-0.01},{"d":15,"v":0},{"d":20,"v":0.02},{"d":24,"v":0.08},{"d":29,"v":0.2},{"d":34,"v":0.16},{"d":39,"v":0.06},{"d":44,"v":-0.02},{"d":49,"v":0.06},{"d":54,"v":0.08},{"d":59,"v":-0.08},{"d":64,"v":-0.12},{"d":68,"v":-0.06},{"d":73,"v":-0.02},{"d":78,"v":0},{"d":83,"v":-0.04},{"d":88,"v":-0.08},{"d":93,"v":0.02},{"d":98,"v":-0.04},{"d":103,"v":0.02},{"d":108,"v":0.08},{"d":112,"v":-0.08},{"d":117,"v":0.02},{"d":122,"v":0},{"d":127,"v":-0.04},{"d":132,"v":-0.02},{"d":137,"v":-0.04},{"d":142,"v":0},{"d":147,"v":0.02},{"d":152,"v":0.12},{"d":156,"v":0.06},{"d":161,"v":0.06},{"d":166,"v":0.02},{"d":171,"v":-0.06},{"d":176,"v":-0.08},{"d":181,"v":0},{"d":186,"v":0.04},{"d":191,"v":0.02},{"d":196,"v":0.1},{"d":200,"v":0.02},{"d":205,"v":0},{"d":210,"v":-0.04},{"d":215,"v":0},{"d":220,"v":-0.06},{"d":225,"v":0.04},{"d":230,"v":-0.08},{"d":235,"v":0.08},{"d":240,"v":0.04},{"d":245,"v":-0.08},{"d":249,"v":0.08},{"d":254,"v":-0.02},{"d":259,"v":-0.08},{"d":264,"v":-0.16},{"d":269,"v":-0.21},{"d":274,"v":-0.08},{"d":279,"v":0.04},{"d":284,"v":-0.04},{"d":289,"v":-0.08},{"d":293,"v":0},{"d":298,"v":-0.21},{"d":303,"v":-0.04},{"d":308,"v":0.1},{"d":313,"v":-0.04},{"d":318,"v":0.04},{"d":323,"v":-0.04},{"d":328,"v":-0.02},{"d":333,"v":-0.04},{"d":338,"v":0},{"d":342,"v":-0.06},{"d":347,"v":0.1},{"d":352,"v":0},{"d":357,"v":-0.04},{"d":362,"v":0.06},{"d":367,"v":-0.16},{"d":372,"v":0.04},{"d":377,"v":0.14},{"d":381,"v":0.08},{"d":386,"v":0.14},{"d":391,"v":0.12},{"d":396,"v":0.04},{"d":401,"v":0},{"d":406,"v":-0.04},{"d":411,"v":-0.02},{"d":416,"v":0},{"d":420,"v":0.06},{"d":425,"v":0.12},{"d":430,"v":0.2},{"d":435,"v":0.16},{"d":440,"v":0.16},{"d":445,"v":0.14},{"d":450,"v":0.04},{"d":455,"v":0.06},{"d":460,"v":0.04},{"d":464,"v":0.1},{"d":469,"v":0.06},{"d":474,"v":0.04},{"d":479,"v":0.06},{"d":484,"v":0.02},{"d":489,"v":0.04},{"d":494,"v":0.02},{"d":499,"v":0.08},{"d":504,"v":0.12},{"d":509,"v":0.21},{"d":513,"v":0.4},{"d":516,"v":0.41},{"d":521,"v":0.2},{"d":526,"v":0.04},{"d":531,"v":-0.06},{"d":535,"v":0},{"d":540,"v":0.08},{"d":545,"v":0.21},{"d":548,"v":0.34},{"d":553,"v":0.2},{"d":557,"v":0.19},{"d":562,"v":0.21},{"d":567,"v":0.2},{"d":572,"v":0.18},{"d":577,"v":0.16},{"d":582,"v":0.14},{"d":587,"v":0},{"d":592,"v":-0.12},{"d":597,"v":-0.04},{"d":601,"v":-0.1},{"d":606,"v":-0.08},{"d":611,"v":0.08},{"d":616,"v":0.08},{"d":621,"v":-0.21},{"d":626,"v":-0.45},{"d":631,"v":-0.23},{"d":636,"v":0.25},{"d":641,"v":0.23},{"d":645,"v":0.04},{"d":650,"v":-0.12},{"d":655,"v":0},{"d":660,"v":0.16},{"d":665,"v":-0.04},{"d":670,"v":-0.2},{"d":675,"v":-0.04},{"d":680,"v":0.06},{"d":685,"v":-0.04},{"d":690,"v":0.04},{"d":694,"v":0},{"d":699,"v":0.02},{"d":704,"v":-0.06},{"d":709,"v":0},{"d":714,"v":-0.04},{"d":719,"v":-0.06},{"d":724,"v":0},{"d":729,"v":-0.04},{"d":734,"v":0},{"d":739,"v":-0.1},{"d":744,"v":0},{"d":748,"v":0.06},{"d":753,"v":0.12},{"d":758,"v":0.02},{"d":763,"v":-0.04},{"d":768,"v":-0.02},{"d":773,"v":-0.08},{"d":778,"v":-0.12},{"d":783,"v":-0.14},{"d":788,"v":0.02},{"d":793,"v":0.06},{"d":797,"v":0.04},{"d":802,"v":-0.16},{"d":807,"v":0.12},{"d":812,"v":0.2},{"d":817,"v":0.06},{"d":822,"v":0.16},{"d":827,"v":0.04},{"d":832,"v":0.2},{"d":837,"v":0.06},{"d":841,"v":0},{"d":846,"v":-0.04},{"d":851,"v":0.02},{"d":856,"v":0},{"d":861,"v":-0.08},{"d":866,"v":-0.04},{"d":871,"v":-0.16},{"d":876,"v":-0.08},{"d":881,"v":-0.1},{"d":886,"v":-0.04},{"d":890,"v":-0.02},{"d":895,"v":-0.16},{"d":900,"v":0},{"d":905,"v":-0.12},{"d":910,"v":-0.27},{"d":915,"v":-0.08},{"d":920,"v":0.06},{"d":925,"v":0.04},{"d":930,"v":-0.08},{"d":934,"v":-0.16},{"d":939,"v":-0.02},{"d":944,"v":-0.04},{"d":949,"v":0.02},{"d":954,"v":-0.04},{"d":959,"v":0.04},{"d":964,"v":0.08},{"d":969,"v":0},{"d":974,"v":0.02},{"d":979,"v":0.1},{"d":984,"v":0.16},{"d":988,"v":0.14},{"d":993,"v":0.1},{"d":998,"v":-0.04},{"d":1000,"v":-0.08}
 ]
},
"hconcat": [
 {"vconcat": [
   {"width": 275, "height": 258, "title": {"text": "Spatial convergence", "offset": -7}, "data": {"name": "pmax"},
    "mark": {"type": "line", "strokeWidth": 1.5, "clip": true},
    "encoding": {
     "x": {"field": "d", "type": "quantitative", "scale": {"domain": [-50, 1050], "nice": false, "zero": false}, "axis": {"values": [0,200,400,600,800,1000], "labels": false, "title": null}},
     "y": {"field": "v", "type": "quantitative", "scale": {"domain": [23, 27], "nice": false, "zero": false}, "axis": {"values": [23,24,25,26,27], "format": "d", "title": "pmax (Pa)", "labelFontSize": 16, "labelPadding": 2, "titlePadding": 5}},
     "color": {"field": "Ny", "type": "nominal", "scale": {"domain": ["Ny=512","Ny=1024","Ny=1510","Ny=2048"], "range": ["#c7e9b4","#6fcbc0","#1d91c0","#0d3c8a"]},
       "legend": {"orient": "top-right", "offset": 4, "title": null, "fillColor": "white", "strokeColor": "#cccccc", "cornerRadius": 3, "padding": 6, "symbolType": "stroke", "symbolStrokeWidth": 2, "symbolSize": 300, "labelFontSize": 11, "labelOffset": 8, "rowPadding": 0}}
    }},
   {"width": 275, "height": 256, "data": {"name": "asel"},
    "mark": {"type": "line", "strokeWidth": 1.5, "clip": true},
    "encoding": {
     "x": {"field": "d", "type": "quantitative", "scale": {"domain": [-50, 1050], "nice": false, "zero": false}, "axis": {"values": [0,200,400,600,800,1000], "format": "d", "title": "Distance (m)", "labelFontSize": 16, "labelPadding": 2, "titlePadding": 2}},
     "y": {"field": "v", "type": "quantitative", "scale": {"domain": [76.5, 80.5], "nice": false, "zero": false}, "axis": {"values": [77,78,79,80], "format": "d", "title": "A-SEL (dBA)", "labelFontSize": 16, "labelPadding": 2, "titlePadding": 5}},
     "color": {"field": "Ny", "type": "nominal", "scale": {"domain": ["Ny=512","Ny=1024","Ny=1510","Ny=2048"], "range": ["#c7e9b4","#6fcbc0","#1d91c0","#0d3c8a"]}, "legend": null}
    }}
  ], "spacing": 6, "bounds": "flush", "resolve": {"legend": {"color": "independent"}}},
 {"hconcat": [
  {"vconcat": [
   {"width": 299, "height": 255, "title": "𝑘𝑐 = 0.5 𝑚⁻¹", "data": {"name": "dp05"},
    "mark": {"type": "line", "strokeWidth": 1.5, "color": "black", "clip": true},
    "encoding": {
     "x": {"field": "d", "type": "quantitative", "scale": {"domain": [-50, 1050], "nice": false, "zero": false}, "axis": {"values": [0,200,400,600,800,1000], "labels": false, "title": null}},
     "y": {"field": "v", "type": "quantitative", "scale": {"domain": [-1.5, 1.5], "nice": false, "zero": false}, "axis": {"values": [-1.2,-0.8,-0.4,0,0.4,0.8,1.2], "format": ".1f", "title": "Δₚₘₐₓ (Pa)", "labelPadding": 7, "titlePadding": 10}}
    }},
   {"width": 299, "height": 255, "data": {"name": "da05"},
    "mark": {"type": "line", "strokeWidth": 1.5, "color": "black", "clip": true},
    "encoding": {
     "x": {"field": "d", "type": "quantitative", "scale": {"domain": [-50, 1050], "nice": false, "zero": false}, "axis": {"values": [0,200,400,600,800,1000], "format": "d", "title": "Distance (m)", "labelPadding": 3, "titlePadding": 3}},
     "y": {"field": "v", "type": "quantitative", "scale": {"domain": [-1.5, 1.5], "nice": false, "zero": false}, "axis": {"values": [-1.2,-0.8,-0.4,0,0.4,0.8,1.2], "format": ".1f", "title": "Δₐ₋ₛₑₗ (dBA)", "labelPadding": 7, "titlePadding": 10}}
    }}
   ], "spacing": 7, "bounds": "flush"},
  {"vconcat": [
   {"width": 299, "height": 255, "title": "𝑘𝑐 = 1 𝑚⁻¹", "data": {"name": "dp1"},
    "mark": {"type": "line", "strokeWidth": 1.5, "color": "black", "clip": true},
    "encoding": {
     "x": {"field": "d", "type": "quantitative", "scale": {"domain": [-50, 1050], "nice": false, "zero": false}, "axis": {"values": [0,200,400,600,800,1000], "labels": false, "title": null}},
     "y": {"field": "v", "type": "quantitative", "scale": {"domain": [-1.5, 1.5], "nice": false, "zero": false}, "axis": {"values": [-1.2,-0.8,-0.4,0,0.4,0.8,1.2], "labels": false, "title": null, "tickSize": 2}}
    }},
   {"width": 299, "height": 255, "data": {"name": "da1"},
    "mark": {"type": "line", "strokeWidth": 1.5, "color": "black", "clip": true},
    "encoding": {
     "x": {"field": "d", "type": "quantitative", "scale": {"domain": [-50, 1050], "nice": false, "zero": false}, "axis": {"values": [0,200,400,600,800,1000], "format": "d", "title": "Distance (m)", "labelPadding": 3, "titlePadding": 3}},
     "y": {"field": "v", "type": "quantitative", "scale": {"domain": [-1.5, 1.5], "nice": false, "zero": false}, "axis": {"values": [-1.2,-0.8,-0.4,0,0.4,0.8,1.2], "labels": false, "title": null, "tickSize": 2}}
    }}
   ], "spacing": 7, "bounds": "flush"}
  ], "spacing": 0}
],
"spacing": 5
}
